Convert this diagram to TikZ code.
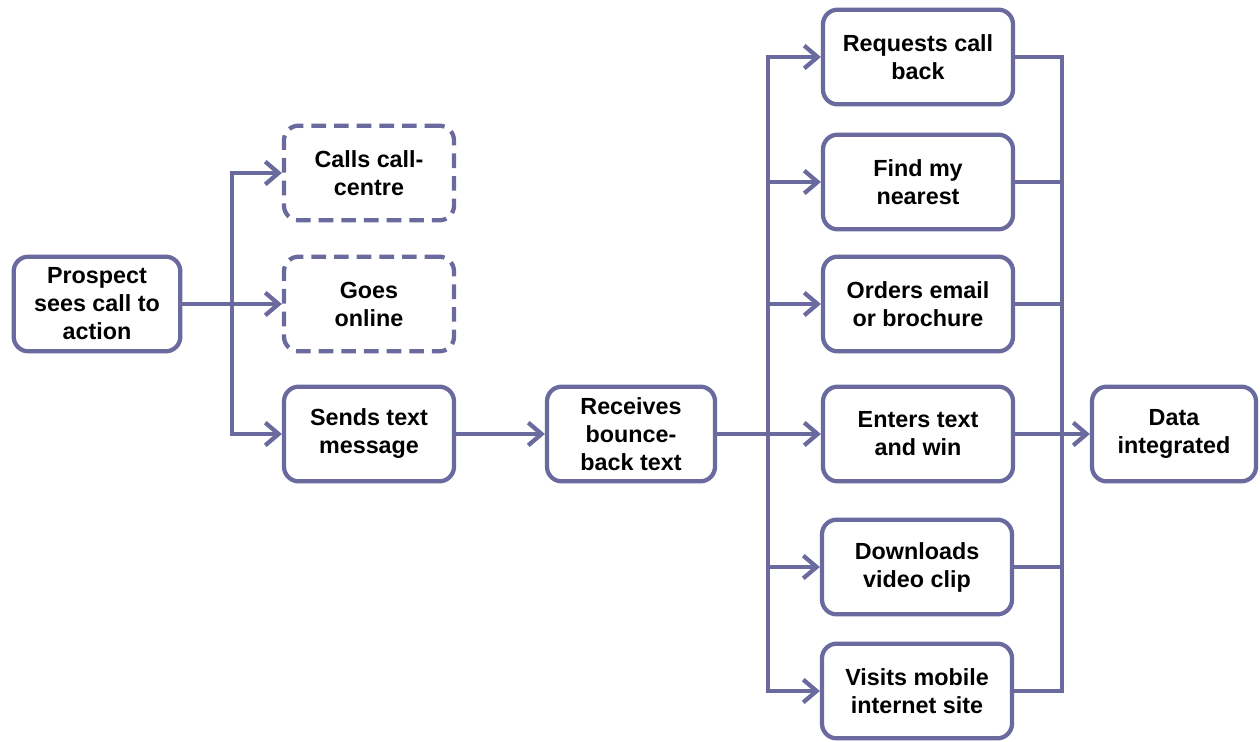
\documentclass[tikz,border=0pt]{standalone}
\usepackage{fontspec}
\setmainfont{Liberation Sans}
\usetikzlibrary{arrows.meta}
\definecolor{edgecol}{HTML}{6A6A9E}
\begin{document}
\begin{tikzpicture}[x=0.75pt,y=-0.75pt,
 box/.style={draw=edgecol, line width=3.2pt, rounded corners=11pt, fill=white, align=center,
   font=\fontsize{17.5}{21}\selectfont\bfseries, minimum height=71pt, inner sep=0pt},
 dbox/.style={box, dash pattern=on 11pt off 6pt},
 wbox/.style={box, minimum width=127.5pt},
 rbox/.style={box, minimum width=142.5pt},
 conn/.style={draw=edgecol, line width=3.2pt},
 arr/.style={conn, -{Straight Barb[length=10pt,width=17pt]}}]
\useasboundingbox (0,0) rectangle (1260,742);
\node[box, minimum width=125pt] (p) at (97,304) {Prospect\\sees call to\\action};
\node[dbox, minimum width=127.5pt] (c) at (369,173) {Calls call-\\centre};
\node[dbox, minimum width=127.5pt] (g) at (369,304) {Goes\\online};
\node[wbox] (s) at (369,434) {Sends text\\message};
\node[box, minimum width=126pt] (r) at (631,434) {Receives\\bounce-\\back text};
\node[rbox] (r1) at (918,57) {Requests call\\back};
\node[rbox] (r2) at (918,182) {Find my\\nearest};
\node[rbox] (r3) at (918,304) {Orders email\\or brochure};
\node[rbox] (r4) at (918,434) {Enters text\\and win};
\node[rbox] (r5) at (917,567) {Downloads\\video clip};
\node[rbox] (r6) at (917,691) {Visits mobile\\internet site};
\node[box, minimum width=123pt] (d) at (1174,434) {Data\\integrated};
\coordinate (j1) at (232,304);
\coordinate (j2) at (768,434);
\coordinate (j3) at (1062,434);
\draw[conn] (p.east) -- (j1);
\draw[arr] (j1) -- (g.west);
\draw[arr] (j1) |- (c.west);
\draw[arr] (j1) |- (s.west);
\draw[arr] (s.east) -- (r.west);
\draw[conn] (r.east) -- (j2);
\foreach \n in {r1,r2,r3,r4,r5,r6} {
  \draw[arr] (j2) |- (\n.west);
  \draw[conn] (\n.east) -| (j3);
}
\draw[arr] (r4.east) -- (d.west);
\end{tikzpicture}
\end{document}
